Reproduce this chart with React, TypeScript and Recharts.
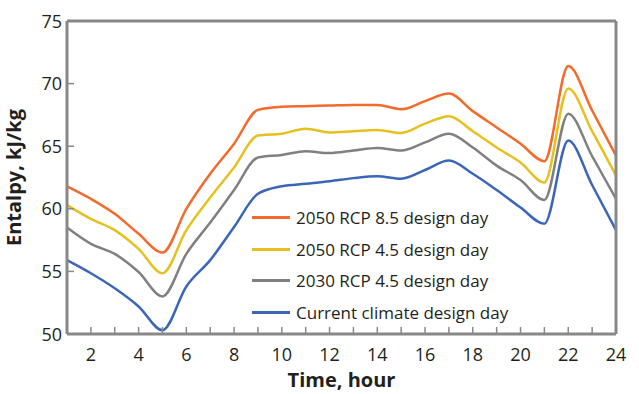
import { Line, LineChart, XAxis, YAxis } from "recharts";

const hours = [1, 2, 3, 4, 5, 6, 7, 8, 9, 10, 11, 12, 13, 14, 15, 16, 17, 18, 19, 20, 21, 22, 23, 24];

const rcp85_2050 = [61.8, 60.8, 59.6, 58.0, 56.5, 60.0, 62.8, 65.2, 67.9, 68.15, 68.2, 68.25, 68.3, 68.3, 67.95, 68.6, 69.2, 67.8, 66.5, 65.2, 63.8, 71.4, 67.85, 64.25];
const rcp45_2050 = [60.3, 59.2, 58.3, 56.8, 54.85, 58.3, 60.9, 63.3, 65.85, 66.0, 66.4, 66.1, 66.2, 66.3, 66.05, 66.8, 67.4, 66.2, 64.9, 63.7, 62.1, 69.6, 66.2, 62.65];
const rcp45_2030 = [58.5, 57.2, 56.4, 54.95, 53.0, 56.4, 58.9, 61.5, 64.1, 64.3, 64.6, 64.45, 64.65, 64.85, 64.65, 65.3, 66.0, 64.9, 63.45, 62.3, 60.7, 67.6, 64.2, 60.8];
const current = [55.9, 54.85, 53.65, 52.2, 50.3, 53.8, 55.9, 58.55, 61.2, 61.8, 62.0, 62.2, 62.45, 62.6, 62.4, 63.1, 63.85, 62.8, 61.5, 60.1, 58.8, 65.45, 61.9, 58.3];

const yTicks = [50, 55, 60, 65, 70, 75];

const series = [
  { key: "rcp85_2050", name: "2050 RCP 8.5 design day", color: "#f26b2a" },
  { key: "rcp45_2050", name: "2050 RCP 4.5 design day", color: "#e6c01e" },
  { key: "rcp45_2030", name: "2030 RCP 4.5 design day", color: "#808080" },
  { key: "current", name: "Current climate design day", color: "#3b66b8" },
];

const data = hours.map((h, i) => ({
  hour: h,
  rcp85_2050: rcp85_2050[i],
  rcp45_2050: rcp45_2050[i],
  rcp45_2030: rcp45_2030[i],
  current: current[i],
}));

const FONT = "'Open Sans', 'Noto Sans', sans-serif";
const TEXT = "#231f20";
const FRAME = "#888888";
// recharts puts the tick label 6 (tickSize) + 2 (tickMargin) px off the axis
const OFF = 8;

function XTick(props: any) {
  const { x, y, payload } = props;
  const v = payload.value;
  const ay = y - OFF;
  return (
    <g>
      <line x1={x} x2={x} y1={ay} y2={ay - 7} stroke={FRAME} strokeWidth={1.5} />
      {v % 2 === 0 && (
        <text x={x} y={ay + 27} textAnchor="middle" fontSize={18} fill={TEXT} fontFamily={FONT}>
          {v}
        </text>
      )}
    </g>
  );
}

function YTick(props: any) {
  const { x, y, payload } = props;
  const ax = x + OFF;
  return (
    <g>
      <line x1={ax} x2={ax + 7} y1={y} y2={y} stroke={FRAME} strokeWidth={1.5} />
      <text x={ax - 5} y={y + 6.5} textAnchor="end" fontSize={18} fill={TEXT} fontFamily={FONT}>
        {payload.value}
      </text>
    </g>
  );
}

function LegendBox() {
  return (
    <div style={{ position: "absolute", left: 252, top: 202, fontFamily: FONT, fontSize: 17, color: TEXT }}>
      {series.map((s) => (
        <div key={s.key} style={{ display: "flex", alignItems: "center", height: 31.5 }}>
          <div style={{ width: 38, height: 3, background: s.color, marginRight: 6 }} />
          <span>{s.name}</span>
        </div>
      ))}
    </div>
  );
}

export default function App() {
  return (
    <div style={{ position: "absolute", left: 0, top: 0, width: 639, height: 394, background: "#fff" }}>
      <LineChart width={639} height={394} data={data} margin={{ top: 20, right: 22, bottom: 0, left: 0 }}>
        <XAxis
          dataKey="hour"
          type="number"
          domain={[1, 24]}
          ticks={hours}
          interval={0}
          height={60}
          tickSize={6}
          tickMargin={2}
          tick={<XTick />}
          tickLine={false}
          stroke={FRAME}
          axisLine={{ stroke: FRAME, strokeWidth: 3 }}
          label={{ value: "Time, hour", position: "insideBottom", offset: 7, fontSize: 20, fontWeight: 700, fill: TEXT, fontFamily: FONT }}
        />
        <XAxis
          xAxisId="top"
          orientation="top"
          dataKey="hour"
          type="number"
          domain={[1, 24]}
          height={1}
          tick={false}
          tickLine={false}
          stroke={FRAME}
          axisLine={{ stroke: FRAME, strokeWidth: 3 }}
        />
        <YAxis
          type="number"
          domain={[50, 75]}
          ticks={yTicks}
          interval={0}
          width={67}
          tickSize={6}
          tickMargin={2}
          tick={<YTick />}
          tickLine={false}
          stroke={FRAME}
          axisLine={{ stroke: FRAME, strokeWidth: 3 }}
          label={{ value: "Entalpy, kJ/kg", angle: -90, position: "insideLeft", offset: 14, fontSize: 20, fontWeight: 700, fill: TEXT, fontFamily: FONT, style: { textAnchor: "middle" } }}
        />
        <YAxis
          yAxisId="right"
          orientation="right"
          type="number"
          domain={[50, 75]}
          width={1}
          tick={false}
          tickLine={false}
          stroke={FRAME}
          axisLine={{ stroke: FRAME, strokeWidth: 3 }}
        />
        {series.map((s) => (
          <Line
            key={s.key}
            type="monotone"
            dataKey={s.key}
            name={s.name}
            stroke={s.color}
            strokeWidth={2.5}
            dot={false}
            isAnimationActive={false}
          />
        ))}
      </LineChart>
      <LegendBox />
    </div>
  );
}
